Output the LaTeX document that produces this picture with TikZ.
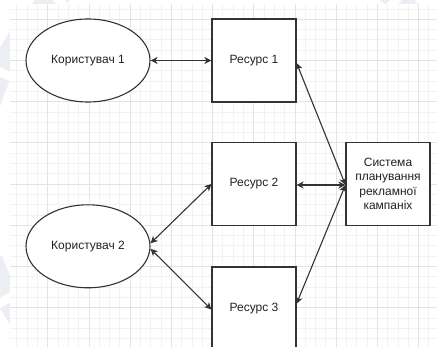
\documentclass[tikz,border=0pt]{standalone}
\usepackage{fontspec}
\setmainfont{Liberation Sans}
\usetikzlibrary{arrows.meta,shapes.geometric}
\definecolor{gridminor}{HTML}{F2F2F2}
\definecolor{gridmajor}{HTML}{E3E3E3}
\definecolor{strokecol}{HTML}{333333}
\definecolor{textcol}{HTML}{222222}
\definecolor{sealcol}{HTML}{EBEEF3}

\tikzset{
  ellnode/.style={draw=strokecol, line width=1.1pt, fill=white, ellipse,
    minimum width=124pt, minimum height=83pt, inner sep=0pt},
  boxnode/.style={draw=strokecol, line width=1.1pt, fill=white, rectangle,
    minimum width=84pt, minimum height=83pt, inner sep=2pt, align=center},
  link/.style={draw=strokecol, line width=1.1pt,
    {Stealth[length=7pt,width=7pt,inset=2pt]}-{Stealth[length=7pt,width=7pt,inset=2pt]}},
  every node/.style={text=textcol, font=\fontsize{12}{14.5}\selectfont}
}

\begin{document}
\begin{tikzpicture}[x=1pt,y=-1pt]
\useasboundingbox (0,0) rectangle (437,347);
\clip (0,0) rectangle (437,347);

% pale seal behind the canvas
\draw[sealcol, line width=24pt, dash pattern=on 38pt off 9pt] (225,178) circle[radius=248];

% canvas with grid
\fill[white] (10,4) rectangle (437,347);
\foreach \k in {-3,...,38} \draw[gridminor, line width=0.8pt] ({47.7+10.3*\k},4) -- ({47.7+10.3*\k},347);
\foreach \k in {-1,...,32} \draw[gridminor, line width=0.8pt] (10,{19.3+10.3*\k}) -- (437,{19.3+10.3*\k});
\foreach \k in {0,...,9} \draw[gridmajor, line width=0.8pt] ({47.7+41.2*\k},4) -- ({47.7+41.2*\k},347);
\foreach \k in {0,...,7} \draw[gridmajor, line width=0.8pt] (10,{19.3+41.2*\k}) -- (437,{19.3+41.2*\k});

% users
\node[ellnode] (u1) at (88,60.5) {Користувач 1};
\node[ellnode] (u2) at (88,246.3) {Користувач 2};

% resources
\node[boxnode] (r1) at (254,60.5) {Ресурс 1};
\node[boxnode] (r2) at (254,184) {Ресурс 2};
\node[boxnode] (r3) at (254,308.5) {Ресурс 3};

% planning system
\node[boxnode] (sys) at (388,184) {Система\\планування\\рекламної\\кампаніх};

% connectors
\draw[link] (u1.east) -- (r1.west);
\draw[link] ([yshift=3pt]u2.east) -- (r2.west);
\draw[link] ([yshift=-2.5pt]u2.east) -- ([yshift=-1pt]r3.west);
\draw[link] ([yshift=-2.5pt]r1.east) -- ([yshift=-1pt]sys.west);
\draw[link] ([yshift=-1pt]r2.east) -- ([yshift=-1pt]sys.west);
\draw[link] ([yshift=4.8pt]r3.east) -- ([yshift=-1pt]sys.west);
\end{tikzpicture}
\end{document}
